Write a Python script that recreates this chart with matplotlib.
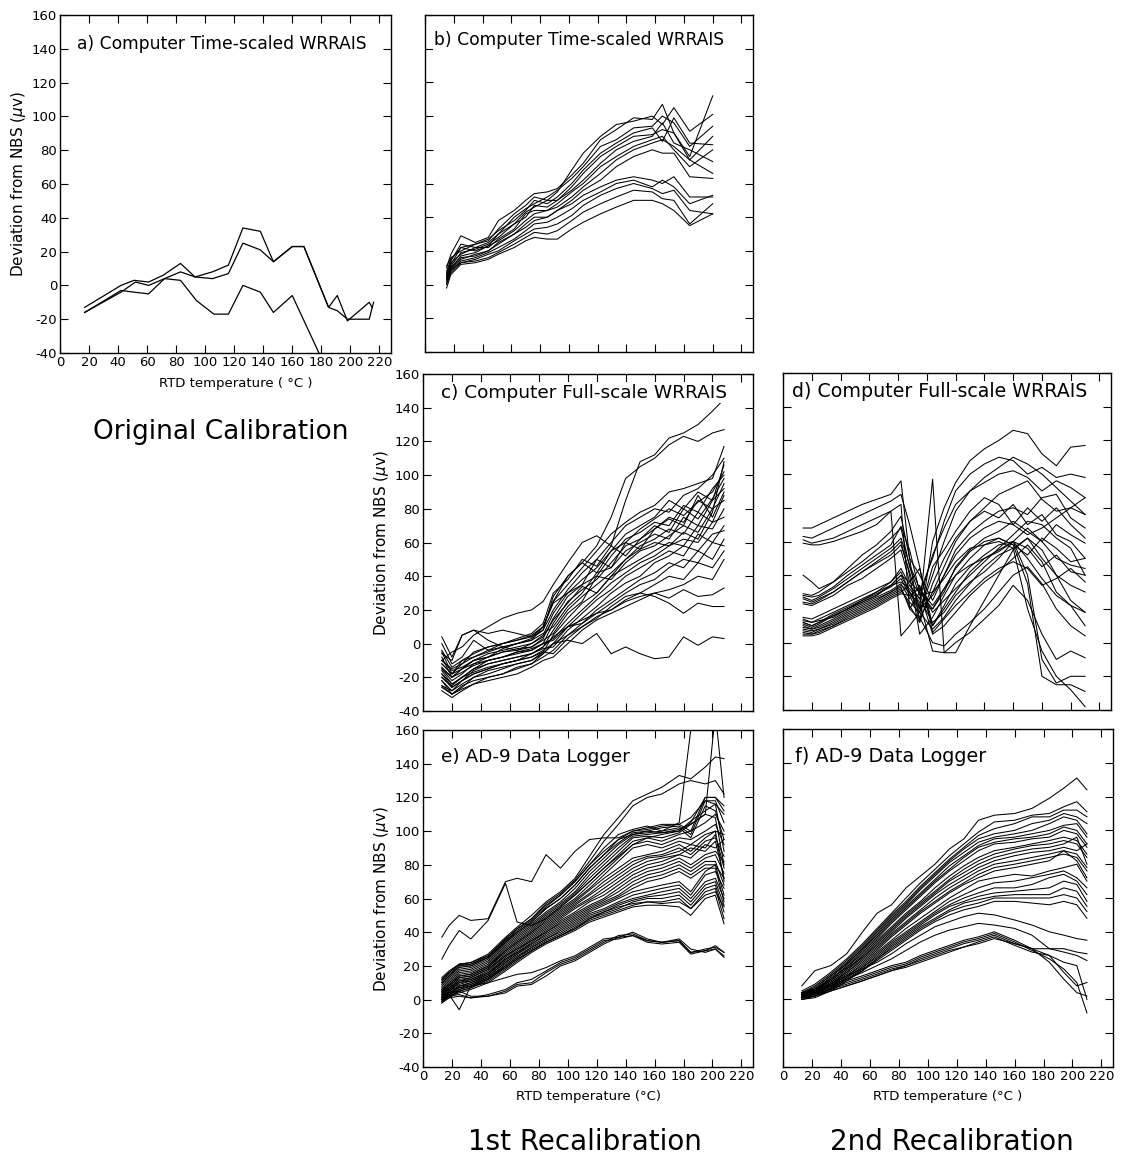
import matplotlib
matplotlib.use("Agg")
import matplotlib.pyplot as plt

plt.rcParams['font.family'] = ['DejaVu Sans']
plt.rcParams['axes.unicode_minus'] = False

# ---------------- data ----------------
# a) Computer Time-scaled WRRAIS, original calibration
A1_X = [17, 42, 51, 61, 71, 83, 93, 105, 116, 126, 138, 147, 160, 168, 185, 191, 198, 213, 215]
A1_Y = [-13, 0, 3, 2, 6, 13, 5, 8, 12, 34, 32, 14, 23, 23, -13, -6, -21, -10, -13]
A2_X = [17, 42, 52, 61, 72, 83, 93, 105, 116, 126, 138, 147, 160, 168, 185, 191, 198, 213, 216]
A2_Y = [-16, -4, 2, 0, 4, 8, 5, 4, 7, 25, 21, 14, 23, 23, -13, -15, -20, -20, -10]
A3_X = [17, 42, 51, 61, 72, 83, 94, 106, 116, 126, 138, 147, 160, 180]
A3_Y = [-16, -3, -4, -5, 4, 3, -9, -17, -17, 0, -4, -16, -6, -43]

# b) Computer Time-scaled WRRAIS, 1st recalibration
B_X = [15, 18, 25, 35, 44, 51, 62, 70, 76, 85, 92, 102, 110, 122, 133, 145, 158, 165, 173, 184, 200]
B_LINES = [
    [10, 18, 29, 25, 28, 38, 44, 50, 54, 55, 57, 65, 72, 86, 92, 99, 98, 107, 90, 76, 112],
    [8, 15, 22, 24, 26, 33, 42, 47, 52, 50, 55, 68, 78, 88, 95, 97, 100, 95, 105, 91, 101],
    [6, 14, 24, 22, 25, 30, 40, 45, 48, 52, 56, 63, 70, 82, 86, 93, 94, 100, 96, 82, 94],
    [11, 16, 20, 24, 27, 32, 38, 44, 50, 48, 52, 60, 68, 78, 84, 90, 93, 85, 99, 84, 83],
    [5, 12, 22, 20, 23, 30, 36, 43, 46, 50, 50, 58, 66, 76, 82, 88, 89, 92, 90, 74, 88],
    [4, 11, 19, 21, 24, 28, 36, 40, 47, 46, 50, 56, 62, 72, 80, 85, 88, 96, 84, 80, 73],
    [7, 13, 18, 22, 22, 27, 33, 42, 44, 44, 48, 55, 60, 70, 76, 82, 86, 88, 80, 70, 80],
    [3, 10, 17, 19, 23, 26, 32, 38, 42, 44, 46, 52, 58, 66, 74, 80, 84, 86, 82, 74, 66],
    [2, 9, 15, 18, 20, 25, 30, 36, 40, 40, 44, 50, 56, 62, 70, 76, 80, 78, 78, 64, 63],
    [5, 10, 16, 17, 20, 24, 30, 34, 38, 40, 44, 48, 53, 58, 62, 64, 62, 60, 64, 52, 52],
    [1, 8, 14, 16, 19, 22, 27, 32, 36, 37, 40, 45, 50, 55, 60, 62, 58, 62, 58, 48, 53],
    [0, 7, 13, 15, 18, 20, 26, 30, 33, 34, 36, 41, 47, 53, 57, 60, 57, 54, 56, 44, 42],
    [3, 9, 13, 14, 16, 19, 24, 28, 31, 30, 32, 38, 43, 48, 52, 56, 55, 51, 50, 36, 48],
    [-2, 6, 12, 13, 15, 18, 22, 26, 28, 27, 27, 33, 37, 42, 46, 50, 50, 48, 44, 35, 42],
]

# c) Computer Full-scale WRRAIS, 1st recalibration
C_X = [13, 20, 27, 35, 45, 55, 65, 75, 83, 90, 100, 110, 120, 130, 140, 150, 160, 170, 180, 190, 200, 208]
C_LINES = [
    [-10, -5, -2, 5, 10, 15, 18, 20, 25, 35, 48, 60, 64, 58, 85, 108, 112, 122, 125, 130, 138, 145],
    [-15, -20, -15, -10, -8, -3, 0, 2, 10, 25, 40, 48, 58, 75, 98, 105, 110, 118, 123, 120, 125, 127],
    [-22, -28, -22, -18, -15, -12, -10, -8, -4, 0, 2, 0, 6, -6, -2, -6, -9, -8, 4, -1, 4, 3],
    [-25, -30, -25, -22, -20, -18, -14, -12, -6, 0, 5, 10, 15, 22, 28, 30, 28, 24, 18, 24, 22, 22],
    [-18, -24, -20, -17, -14, -12, -10, -6, -2, 4, 10, 12, 18, 20, 25, 28, 30, 27, 32, 28, 29, 33],
    [-10, -15, -12, -5, -2, 0, 2, 5, 10, 25, 35, 45, 55, 65, 72, 78, 82, 90, 92, 95, 98, 117],
    [-12, -18, -10, -8, -5, -2, 0, 3, 8, 20, 32, 42, 50, 60, 70, 75, 80, 78, 88, 92, 100, 110],
    [-8, -20, -15, -10, -6, -4, -2, 0, 5, 18, 30, 38, 45, 55, 65, 70, 75, 85, 80, 90, 85, 106],
    [-15, -22, -18, -12, -8, -5, -3, -2, 3, 15, 28, 35, 40, 52, 62, 66, 72, 70, 82, 78, 92, 100],
    [-20, -25, -20, -15, -10, -8, -5, -4, 0, 12, 25, 32, 38, 48, 58, 62, 68, 75, 72, 85, 80, 95],
    [-5, -18, -12, -8, -4, -2, 0, 2, 6, 10, 22, 30, 42, 45, 55, 60, 65, 62, 75, 70, 85, 92],
    [-18, -26, -22, -16, -12, -10, -8, -6, -2, 8, 20, 28, 35, 42, 50, 58, 62, 68, 65, 78, 72, 88],
    [-10, -16, -14, -10, -8, -5, -4, -2, 2, 6, 18, 25, 40, 38, 48, 55, 58, 64, 70, 66, 80, 85],
    [-25, -28, -24, -20, -16, -14, -12, -10, -5, 5, 15, 24, 30, 40, 45, 50, 55, 60, 58, 70, 68, 80],
    [-14, -20, -17, -13, -10, -8, -6, -4, 0, 3, 12, 20, 28, 36, 42, 48, 52, 58, 62, 60, 72, 75],
    [-22, -30, -26, -20, -18, -15, -12, -10, -6, 0, 10, 18, 26, 32, 40, 45, 50, 55, 52, 65, 60, 70],
    [-16, -24, -20, -15, -12, -10, -8, -6, -3, -2, 8, 15, 22, 30, 36, 40, 48, 52, 58, 55, 65, 67],
    [-28, -32, -28, -24, -20, -18, -15, -12, -8, -4, 5, 12, 20, 26, 32, 38, 42, 48, 45, 55, 50, 62],
    [-12, -18, -15, -12, -10, -8, -5, -3, 0, 2, 10, 14, 18, 24, 30, 35, 38, 45, 50, 48, 60, 58],
    [-20, -26, -22, -18, -15, -12, -10, -8, -5, -6, 3, 10, 16, 20, 26, 30, 35, 40, 38, 48, 45, 55],
    [-26, -30, -27, -24, -22, -20, -18, -14, -10, -8, 0, 8, 14, 18, 22, 26, 30, 32, 35, 40, 38, 50],
    [-4, -14, -10, -6, -2, 0, 2, 4, 8, 28, 40, 48, 42, 55, 60, 68, 74, 80, 76, 84, 90, 102],
    [0, -12, -8, 2, -4, 0, 3, 6, 12, 30, 38, 50, 46, 58, 52, 62, 70, 66, 80, 74, 86, 98],
    [4, -8, 5, 8, 6, 8, 6, 4, 10, 24, 30, 35, 50, 45, 60, 56, 68, 74, 70, 88, 75, 90],
    [-6, -10, 5, 8, 2, -2, -4, 0, 4, 14, 24, 34, 30, 40, 50, 56, 60, 58, 66, 62, 78, 108],
]

# d) Computer Full-scale WRRAIS, 2nd recalibration
D_X = [14, 20, 25, 35, 45, 55, 65, 75, 82, 88, 95, 104, 112, 120, 130, 140, 150, 160, 170, 180, 190, 200, 210]
D_LINES = [
    [68, 68, 70, 74, 78, 82, 85, 88, 96, 50, 12, 60, 80, 95, 108, 115, 120, 126, 124, 112, 105, 116, 117],
    [12, 10, 12, 16, 20, 24, 28, 34, 40, 30, 20, 97, -6, -6, 10, 25, 40, 55, 62, 55, 40, 25, 18],
    [61, 59, 60, 62, 66, 70, 74, 78, 82, 20, 30, 50, 72, 90, 100, 106, 110, 108, 100, 104, 98, 100, 98],
    [59, 58, 58, 60, 63, 66, 70, 78, 4, 10, 18, 40, 60, 78, 90, 95, 100, 102, 98, 90, 96, 92, 86],
    [40, 36, 32, 36, 42, 48, 55, 62, 68, 45, 28, 30, 45, 60, 72, 80, 88, 92, 96, 85, 78, 80, 76],
    [29, 28, 30, 36, 44, 52, 58, 66, 75, 50, 40, 25, 40, 55, 65, 72, 78, 80, 76, 86, 88, 74, 68],
    [28, 27, 28, 33, 40, 46, 52, 58, 69, 55, 30, 20, 30, 45, 55, 62, 66, 72, 66, 60, 70, 64, 59],
    [26, 24, 26, 30, 36, 42, 48, 54, 60, 40, 5, 15, 28, 40, 50, 58, 62, 58, 52, 62, 56, 48, 50],
    [23, 22, 24, 28, 34, 38, 44, 50, 55, 36, 44, 10, 20, 30, 42, 50, 55, 60, 56, 45, 52, 42, 40],
    [15, 14, 16, 20, 24, 28, 32, 36, 42, 30, 18, 8, 15, 25, 35, 45, 52, 56, 62, 50, 40, 34, 30],
    [13, 12, 14, 18, 22, 26, 30, 34, 40, 36, 30, 5, 10, 18, 28, 36, 42, 50, 58, 48, 30, 22, 18],
    [12, 10, 12, 17, 21, 25, 29, 33, 38, 28, 15, 0, -2, 5, 12, 20, 30, 40, 45, 35, 20, 10, 4],
    [11, 9, 11, 16, 20, 24, 28, 34, 36, 32, 24, -5, -6, 0, 6, 14, 22, 34, 25, 5, -10, -5, -9],
    [10, 8, 10, 14, 19, 23, 27, 31, 35, 26, 34, 10, 22, 35, 45, 52, 58, 60, 40, -10, -24, -20, -20],
    [9, 8, 9, 13, 18, 22, 26, 30, 34, 30, 22, 20, 32, 44, 54, 60, 62, 58, 35, -20, -25, -25, -29],
    [8, 7, 8, 12, 17, 21, 25, 30, 33, 20, 14, 30, 38, 48, 56, 58, 60, 56, 20, -5, -20, -28, -38],
    [7, 6, 8, 11, 16, 20, 24, 29, 32, 22, 12, 35, 50, 62, 72, 78, 74, 82, 70, 76, 64, 60, 50],
    [6, 5, 7, 10, 15, 19, 23, 28, 31, 24, 18, 45, 55, 66, 78, 86, 82, 70, 80, 72, 80, 70, 62],
    [5, 5, 6, 10, 14, 18, 22, 27, 30, 34, 26, 52, 68, 82, 90, 98, 104, 110, 106, 100, 92, 84, 76],
    [4, 4, 5, 9, 13, 17, 21, 26, 29, 28, 32, 18, 25, 32, 40, 48, 56, 64, 72, 70, 62, 56, 40],
    [14, 12, 13, 15, 20, 25, 30, 36, 44, 34, 26, 12, 18, 28, 36, 42, 50, 60, 50, 38, 28, 22, 10],
    [27, 25, 27, 32, 38, 44, 50, 56, 62, 46, 32, 22, 32, 40, 46, 50, 54, 60, 68, 60, 50, 46, 44],
    [24, 23, 25, 30, 36, 42, 47, 52, 58, 42, 20, 28, 40, 52, 62, 68, 72, 70, 64, 68, 74, 80, 86],
    [63, 62, 64, 68, 72, 76, 80, 84, 88, 70, 45, 6, 14, 22, 30, 38, 44, 48, 44, 34, 38, 44, 36],
]

# e) AD-9 Data Logger, 1st recalibration
E_X = [13, 18, 25, 33, 45, 57, 65, 75, 85, 95, 105, 115, 125, 135, 145, 155, 165, 177, 185, 195, 202, 208]
E_LINES = [
    [37, 44, 50, 47, 48, 70, 72, 70, 86, 78, 88, 95, 96, 96, 100, 102, 104, 104, 108, 118, 116, 110],
    [24, 32, 41, 36, 47, 69, 46, 44, 48, 55, 62, 70, 78, 85, 92, 96, 98, 100, 105, 120, 120, 112],
    [13, 17, 21, 22, 27, 37, 43, 50, 58, 64, 72, 85, 98, 108, 118, 122, 126, 133, 131, 138, 144, 143],
    [12, 16, 21, 22, 26, 36, 42, 48, 57, 63, 71, 82, 94, 104, 115, 120, 122, 128, 130, 128, 130, 122],
    [11, 15, 20, 21, 25, 35, 41, 47, 55, 62, 70, 80, 90, 98, 101, 103, 100, 105, 160, 190, 190, 190],
    [10, 14, 19, 20, 25, 34, 40, 46, 54, 60, 68, 78, 86, 95, 98, 100, 99, 101, 104, 110, 170, 120],
    [12, 16, 21, 21, 26, 36, 42, 48, 56, 62, 70, 80, 88, 95, 100, 101, 103, 104, 100, 120, 120, 115],
    [10, 14, 20, 20, 25, 35, 40, 46, 54, 60, 68, 78, 86, 93, 99, 100, 102, 103, 98, 118, 118, 105],
    [9, 13, 18, 19, 24, 34, 39, 45, 52, 58, 66, 76, 84, 92, 98, 99, 100, 102, 96, 115, 112, 95],
    [8, 12, 17, 18, 23, 33, 38, 44, 51, 57, 64, 74, 82, 90, 97, 98, 99, 100, 106, 112, 116, 88],
    [7, 11, 16, 17, 22, 32, 37, 43, 50, 56, 63, 72, 80, 88, 96, 97, 96, 99, 104, 110, 108, 80],
    [6, 10, 15, 16, 21, 31, 36, 42, 49, 55, 62, 70, 78, 86, 94, 96, 94, 98, 100, 105, 110, 100],
    [5, 9, 14, 15, 20, 30, 35, 41, 48, 54, 60, 68, 76, 84, 92, 94, 92, 96, 95, 100, 104, 92],
    [4, 8, 13, 14, 19, 29, 34, 40, 47, 53, 59, 66, 74, 82, 90, 92, 90, 94, 92, 98, 100, 70],
    [6, 9, 14, 15, 20, 29, 34, 40, 46, 52, 58, 65, 72, 78, 84, 86, 88, 92, 88, 96, 100, 98],
    [5, 8, 13, 14, 19, 28, 33, 39, 45, 51, 57, 63, 70, 76, 82, 85, 86, 90, 86, 94, 96, 85],
    [4, 7, 12, 13, 18, 27, 32, 38, 44, 50, 56, 62, 68, 74, 80, 84, 85, 88, 92, 90, 98, 78],
    [3, 7, 11, 13, 18, 26, 31, 37, 43, 49, 55, 60, 66, 72, 78, 82, 84, 86, 90, 88, 94, 72],
    [3, 6, 11, 12, 17, 26, 30, 36, 42, 48, 54, 59, 64, 70, 76, 80, 82, 86, 84, 92, 90, 95],
    [2, 6, 10, 12, 16, 25, 30, 35, 41, 47, 52, 58, 62, 68, 74, 78, 80, 84, 80, 86, 88, 82],
    [2, 5, 10, 11, 16, 24, 29, 35, 40, 46, 51, 56, 60, 66, 72, 76, 78, 82, 78, 84, 86, 75],
    [1, 5, 9, 11, 15, 24, 28, 34, 40, 45, 50, 55, 59, 64, 70, 74, 76, 80, 76, 82, 82, 68],
    [0, 4, 8, 10, 15, 23, 28, 33, 39, 44, 49, 54, 58, 62, 68, 72, 74, 78, 74, 80, 80, 62],
    [-1, 3, 8, 10, 14, 22, 27, 33, 38, 43, 48, 53, 57, 61, 66, 70, 72, 76, 72, 78, 78, 58],
    [1, 4, 8, 9, 14, 22, 27, 32, 37, 42, 47, 52, 56, 60, 64, 66, 68, 70, 64, 76, 80, 72],
    [0, 3, 7, 9, 13, 21, 26, 31, 36, 41, 46, 51, 54, 58, 62, 64, 66, 68, 62, 74, 76, 66],
    [-1, 3, 6, 8, 13, 20, 25, 31, 36, 40, 45, 50, 53, 57, 60, 62, 64, 66, 60, 70, 72, 60],
    [-1, 2, 6, 8, 12, 20, 25, 30, 35, 39, 44, 49, 52, 56, 59, 61, 62, 64, 58, 68, 70, 56],
    [-2, 2, 5, 7, 12, 19, 24, 29, 34, 38, 43, 48, 51, 54, 58, 60, 60, 62, 56, 66, 68, 52],
    [-2, 1, 5, 7, 11, 18, 23, 29, 34, 38, 42, 47, 50, 53, 56, 58, 58, 60, 54, 64, 66, 48],
    [0, 2, 4, 6, 10, 17, 22, 28, 33, 37, 41, 46, 49, 52, 55, 56, 56, 55, 50, 60, 62, 45],
    [2, 3, -6, 8, 12, 19, 24, 29, 34, 38, 42, 48, 52, 55, 57, 58, 57, 58, 54, 62, 64, 55],
    [3, 4, 5, 2, 2, 4, 8, 9, 14, 20, 23, 28, 33, 37, 40, 36, 34, 35, 28, 30, 31, 28],
    [1, 2, 3, 1, 2, 5, 9, 10, 16, 21, 24, 29, 34, 38, 39, 35, 34, 36, 30, 28, 30, 26],
    [0, 1, 2, 1, 3, 6, 10, 12, 17, 22, 25, 30, 35, 36, 38, 34, 33, 34, 27, 29, 32, 28],
    [5, 6, 7, 8, 10, 13, 15, 16, 19, 23, 26, 31, 36, 37, 38, 35, 34, 35, 28, 29, 30, 25],
]

# f) AD-9 Data Logger, 2nd recalibration
F_X = [13, 22, 33, 44, 55, 65, 75, 85, 95, 105, 115, 125, 135, 146, 160, 172, 184, 194, 203, 210]
F_LINES = [
    [8, 17, 20, 27, 40, 51, 56, 66, 73, 80, 89, 95, 106, 109, 110, 113, 119, 125, 131, 124],
    [5, 9, 16, 24, 33, 42, 51, 60, 69, 77, 85, 92, 99, 105, 106, 109, 110, 114, 117, 111],
    [4, 8, 15, 23, 32, 41, 50, 58, 67, 75, 83, 90, 97, 101, 104, 108, 108, 112, 112, 108],
    [4, 7, 14, 22, 31, 40, 49, 57, 66, 74, 82, 89, 95, 98, 100, 104, 106, 110, 108, 104],
    [3, 7, 14, 21, 30, 39, 48, 56, 65, 73, 81, 87, 93, 96, 98, 100, 104, 108, 106, 98],
    [3, 6, 13, 21, 30, 38, 47, 55, 63, 71, 79, 85, 91, 95, 96, 98, 100, 103, 104, 96],
    [2, 6, 12, 20, 29, 37, 46, 54, 62, 70, 77, 84, 90, 93, 95, 96, 98, 102, 100, 92],
    [2, 5, 12, 19, 28, 36, 45, 53, 61, 69, 76, 82, 88, 92, 93, 95, 96, 100, 98, 90],
    [4, 6, 12, 19, 27, 35, 43, 51, 58, 66, 73, 79, 84, 88, 90, 92, 94, 96, 94, 86],
    [3, 6, 11, 18, 26, 34, 42, 50, 57, 64, 71, 77, 82, 86, 89, 91, 92, 94, 92, 84],
    [3, 5, 11, 18, 25, 33, 41, 49, 56, 63, 70, 75, 80, 84, 87, 89, 90, 92, 96, 80],
    [2, 5, 10, 17, 25, 32, 40, 48, 55, 62, 68, 73, 78, 82, 85, 87, 88, 90, 88, 92],
    [2, 4, 10, 16, 24, 31, 39, 46, 53, 60, 66, 71, 76, 80, 82, 84, 86, 88, 86, 78],
    [1, 4, 9, 16, 23, 30, 38, 45, 52, 58, 64, 69, 74, 78, 80, 82, 84, 86, 84, 76],
    [1, 3, 9, 15, 22, 29, 37, 44, 51, 57, 63, 68, 72, 76, 78, 80, 82, 88, 82, 72],
    [3, 4, 8, 14, 21, 28, 35, 42, 48, 54, 60, 65, 70, 72, 74, 73, 76, 78, 80, 70],
    [2, 4, 8, 14, 20, 27, 34, 40, 46, 52, 58, 62, 66, 69, 70, 72, 74, 76, 72, 66],
    [2, 3, 7, 13, 19, 26, 33, 39, 45, 51, 56, 60, 63, 66, 66, 68, 72, 74, 70, 62],
    [1, 3, 7, 13, 19, 25, 32, 38, 44, 50, 55, 58, 61, 63, 64, 65, 66, 70, 68, 58],
    [1, 2, 6, 12, 18, 24, 31, 37, 43, 48, 53, 57, 59, 61, 62, 62, 62, 66, 64, 55],
    [0, 2, 6, 12, 17, 24, 30, 36, 42, 47, 52, 55, 57, 60, 60, 60, 60, 62, 60, 52],
    [0, 1, 5, 11, 17, 23, 29, 35, 41, 46, 50, 53, 55, 58, 58, 57, 56, 58, 56, 48],
    [4, 6, 9, 14, 18, 22, 27, 33, 38, 43, 46, 49, 51, 50, 47, 44, 40, 38, 36, 35],
    [3, 5, 8, 12, 16, 20, 24, 29, 34, 38, 41, 43, 45, 44, 42, 38, 30, 28, 26, 23],
    [2, 4, 7, 11, 14, 17, 20, 22, 26, 29, 32, 35, 37, 40, 35, 30, 26, 22, 20, 0],
    [2, 3, 6, 10, 13, 16, 19, 21, 25, 28, 31, 34, 36, 39, 34, 29, 24, 18, 10, -8],
    [1, 3, 6, 9, 12, 15, 18, 20, 24, 27, 30, 33, 35, 38, 33, 30, 30, 30, 28, 27],
    [1, 2, 5, 8, 11, 14, 17, 20, 23, 26, 29, 31, 34, 37, 32, 28, 26, 16, 8, 10],
    [0, 2, 5, 8, 11, 14, 17, 19, 22, 25, 28, 31, 33, 36, 33, 30, 22, 12, 4, 2],
]

X_TICKS = list(range(0, 221, 20))
Y_TICKS = list(range(-40, 161, 20))
YLABEL = 'Deviation from NBS ($\\mu$v)'

W, H = 1121, 1163
fig = plt.figure(figsize=(W / 100, H / 100), dpi=100)


def make_panel(box, title, tx, ty, tsize, xlabel=None, ylabels=False):
    # box is (left, top, right, bottom) in pixels
    l, t, r, b = box
    ax = fig.add_axes([l / W, 1 - b / H, (r - l) / W, (b - t) / H])
    ax.set_xlim(0, 228)
    ax.set_ylim(-40, 160)
    ax.set_xticks(X_TICKS)
    ax.set_yticks(Y_TICKS)
    ax.tick_params(direction='in', top=True, right=True, length=6, width=0.8,
                   labelsize=9.5, pad=2,
                   labelbottom=xlabel is not None, labelleft=ylabels)
    for s in ax.spines.values():
        s.set_linewidth(1.0)
    ax.text(tx, ty, title, transform=ax.transAxes, fontsize=tsize,
            ha='left', va='center', bbox=dict(fc='white', ec='none', pad=1))
    if ylabels:
        ax.set_ylabel(YLABEL, fontsize=11, labelpad=3)
    if xlabel:
        ax.set_xlabel(xlabel, fontsize=9.5, labelpad=5)
    return ax


def draw(ax, x, rows):
    for row in rows:
        ax.plot(x, row, color='black', lw=0.75)


ax_a = make_panel((60, 15, 391, 353), 'a) Computer Time-scaled WRRAIS', 0.05, 0.915, 12.3,
                  'RTD temperature ( °C )', True)
ax_a.xaxis.set_label_coords(0.53, -0.07)
ax_a.plot(A1_X, A1_Y, color='black', lw=0.9)
ax_a.plot(A2_X, A2_Y, color='black', lw=0.9)
ax_a.plot(A3_X, A3_Y, color='black', lw=0.9)

ax_b = make_panel((425, 15, 753, 352), 'b) Computer Time-scaled WRRAIS', 0.028, 0.925, 12.3)
draw(ax_b, B_X, B_LINES)

ax_c = make_panel((423, 374, 753, 711), 'c) Computer Full-scale WRRAIS', 0.055, 0.945, 13.3, None, True)
draw(ax_c, C_X, C_LINES)

ax_d = make_panel((783, 373, 1111, 710), 'd) Computer Full-scale WRRAIS', 0.028, 0.945, 13.7)
draw(ax_d, D_X, D_LINES)

ax_e = make_panel((423, 730, 753, 1067), 'e) AD-9 Data Logger', 0.055, 0.92, 13.3,
                  'RTD temperature (°C)', True)
draw(ax_e, E_X, E_LINES)

ax_f = make_panel((783, 729, 1113, 1067), 'f) AD-9 Data Logger', 0.035, 0.92, 13.8,
                  'RTD temperature (°C )', False)
draw(ax_f, F_X, F_LINES)

fig.text(221 / W, 1 - 432 / H, 'Original Calibration', fontsize=19, ha='center', va='center')
fig.text(585 / W, 1 - 1142 / H, '1st Recalibration', fontsize=20, ha='center', va='center')
fig.text(952 / W, 1 - 1142 / H, '2nd Recalibration', fontsize=20, ha='center', va='center')

fig.savefig('out.png', dpi=100)
